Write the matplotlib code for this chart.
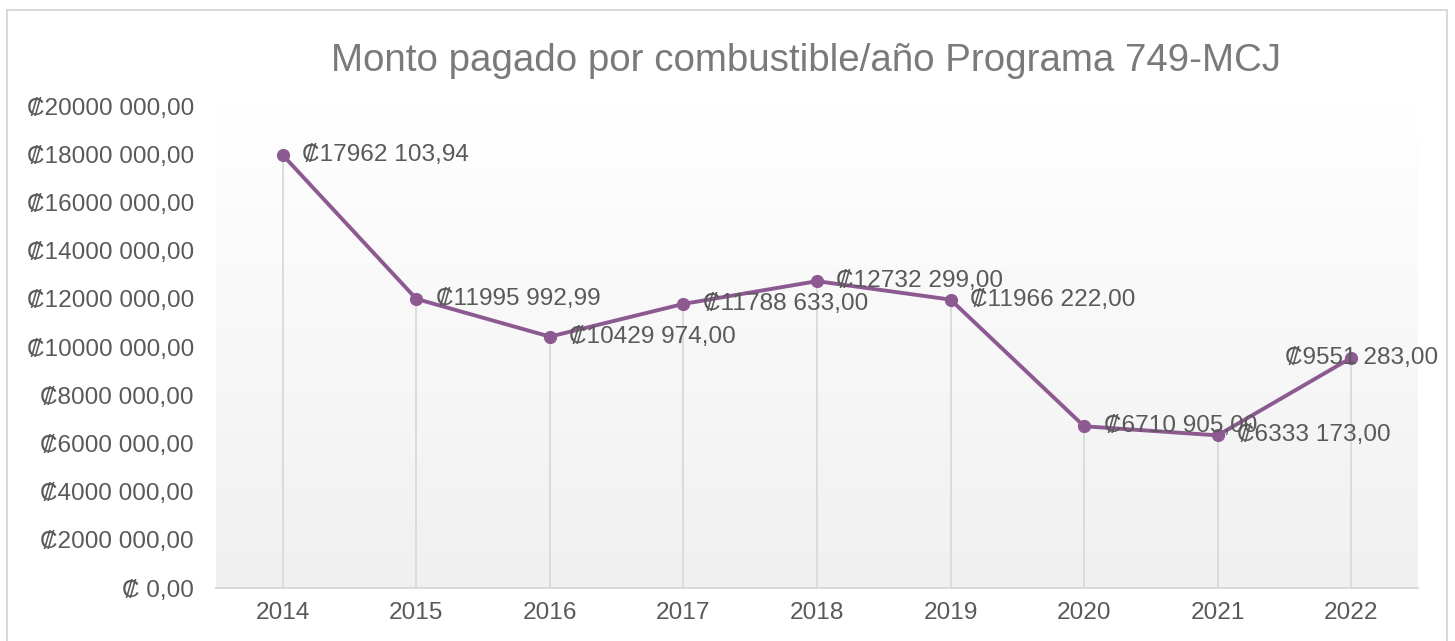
import matplotlib
matplotlib.use("Agg")
import matplotlib.pyplot as plt
import numpy as np
from matplotlib.patches import Rectangle
from matplotlib.ticker import FuncFormatter
from matplotlib.colors import LinearSegmentedColormap
from matplotlib.transforms import blended_transform_factory

plt.rcParams['font.family'] = ['Liberation Sans', 'DejaVu Sans']

years = ["2014", "2015", "2016", "2017", "2018", "2019", "2020", "2021", "2022"]
values = [17962103.94, 11995992.99, 10429974.00, 11788633.00, 12732299.00,
          11966222.00, 6710905.00, 6333173.00, 9551283.00]
title = "Monto pagado por combustible/año Programa 749-MCJ"
yticks = [0, 2000000, 4000000, 6000000, 8000000, 10000000, 12000000,
          14000000, 16000000, 18000000, 20000000]

def fmt(v):
    ip = int(v)
    dec = int(round((v - ip) * 100))
    if ip < 1000:
        s = "\u20a1 " + str(ip)
    else:
        s = "\u20a1" + str(ip // 1000) + " " + f"{ip % 1000:03d}"
    return s + f",{dec:02d}"

FS = 17.6
TXT = "#595959"

fig = plt.figure(figsize=(14.55, 6.41), dpi=100)
fig.patch.set_facecolor("white")
fig.patches.append(Rectangle((7/1455, -0.05), 1440/1455, 1.05 - 10/641,
                             transform=fig.transFigure, fill=False,
                             edgecolor="#D9D9D9", linewidth=1.5))

ax = fig.add_axes([216/1455, 53/641, 1202/1455, 482/641])
x = np.arange(len(years))

grad = np.linspace(0, 1, 256).reshape(-1, 1)
cmap = LinearSegmentedColormap.from_list("g", ["#F0F0F0", "#FFFFFF"])
ax.imshow(grad, aspect="auto", cmap=cmap, origin="lower",
          extent=[-0.5, 8.5, 0, 20000000], zorder=0)

ax.vlines(x, 0, values, colors="#D9D9D9", linewidth=1.3, zorder=1)
ax.plot(x, values, color="#8C5A91", linewidth=2.8, marker="o",
        markersize=8.5, zorder=3)

last = len(values) - 1
for xi, v in zip(x, values):
    if xi == last:
        tr = blended_transform_factory(fig.transFigure, ax.transData)
        ax.text(1438/1455, v, fmt(v), transform=tr, ha="right", va="center",
                fontsize=FS, color=TXT, zorder=4, clip_on=False)
    else:
        ax.annotate(fmt(v), (xi, v), xytext=(14, 0), textcoords="offset points",
                    va="center", ha="left", fontsize=FS, color=TXT, zorder=4)

ax.set_xlim(-0.5, 8.5)
ax.set_ylim(0, 20000000)
ax.set_xticks(x)
ax.set_xticklabels(years)
ax.set_yticks(yticks)
ax.yaxis.set_major_formatter(FuncFormatter(lambda v, p: fmt(v)))
ax.tick_params(axis="both", length=0, labelsize=FS, labelcolor=TXT)
ax.tick_params(axis="y", pad=16)
ax.tick_params(axis="x", pad=10)
for side in ["top", "right", "left"]:
    ax.spines[side].set_visible(False)
ax.spines["bottom"].set_color("#D9D9D9")
ax.spines["bottom"].set_linewidth(1.5)

fig.text(806/1455, 1 - 61/641, title, ha="center", va="center",
         fontsize=27.7, color="#7A7A7A")

fig.savefig("out.png", dpi=100)
